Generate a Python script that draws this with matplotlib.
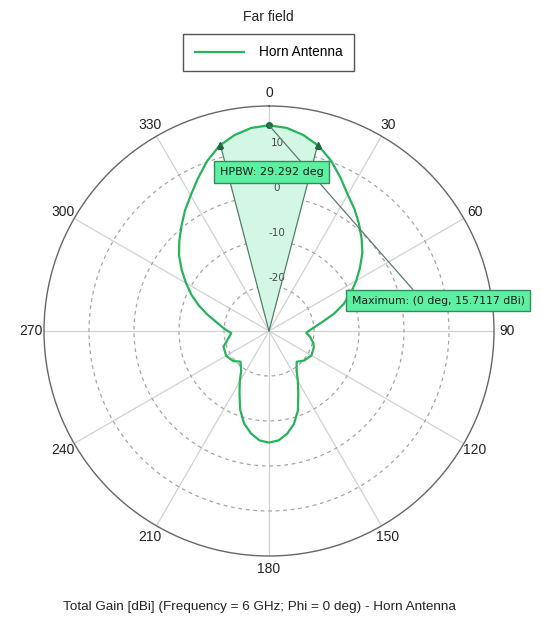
import numpy as np
import matplotlib
matplotlib.use("Agg")
import matplotlib.pyplot as plt

plt.rcParams["font.family"] = ["Liberation Sans", "DejaVu Sans"]

# Far-field cut, total gain (dBi) versus theta (deg, clockwise from boresight)
theta_deg = [0, 5, 10, 15, 20, 25, 30, 35, 40, 45, 50, 55, 60, 65, 70, 75, 80, 85,
             90, 93, 98, 105, 110, 120, 130, 138, 145, 150, 155, 160, 165, 170, 175,
             180, 185, 190, 195, 200, 205, 210, 215, 223, 230, 240, 251, 261, 267,
             270, 275, 280, 285, 290, 295, 300, 305, 310, 315, 320, 325, 330, 335,
             340, 345, 350, 355, 360]
gain_dbi = [15.7117, 15.3, 14.2, 12.6, 10.3, 7.6, 5.0, 3.1, 1.1, -0.9, -2.9, -5.3,
            -7.6, -9.9, -12.3, -15.0, -17.8, -19.8, -21.2, -21.7, -20.8, -19.8, -19.4,
            -19.1, -19.8, -20.8, -19.3, -17.2, -14.6, -11.2, -8.6, -6.8, -5.6,
            -5.2, -5.6, -6.9, -8.7, -11.3, -14.5, -17.0, -19.2, -20.7, -19.6, -19.0,
            -19.3, -21.0, -21.6, -20.8, -19.5, -18.0, -15.8, -13.4, -11.0, -8.7,
            -6.3, -3.9, -1.8, 0.3, 2.6, 4.8, 7.4, 10.2, 12.6, 14.2, 15.3, 15.7117]

angle_ticks = [0, 30, 60, 90, 120, 150, 180, 210, 240, 270, 300, 330]
ring_values = [-20, -10, 0, 10]
r_min, r_max = -30, 20

max_theta = 0
max_gain = 15.7117
hpbw_deg = 29.292

green = "#27b35b"
dark_green = "#1f6b3e"

fig = plt.figure(figsize=(5.42, 6.17), dpi=100)
ax = fig.add_axes([44 / 542, 61 / 617, 450 / 542, 450 / 617], projection="polar")
ax.set_theta_zero_location("N")
ax.set_theta_direction(-1)
ax.set_ylim(r_min, r_max)
ax.grid(False)
ax.set_xticks([])
ax.set_yticks([])
ax.spines["polar"].set_color("#666666")
ax.spines["polar"].set_linewidth(1.0)

# spokes and dashed level rings
for a in angle_ticks:
    t = np.deg2rad(a)
    ax.plot([t, t], [r_min, r_max], color="#d2d2d2", lw=0.9, zorder=1)
full = np.linspace(0, 2 * np.pi, 721)
for v in ring_values:
    ax.plot(full, np.full_like(full, v), color="#a6a6a6", lw=0.9,
            ls=(0, (3, 3)), zorder=1)

# angle labels
for a in angle_ticks:
    ax.text(np.deg2rad(a), 22.8, str(a), ha="center", va="center",
            fontsize=10, color="#222222")

# level labels
for v in ring_values:
    ax.annotate(str(v), xy=(0, v), xytext=(8, 8), textcoords="offset pixels",
                ha="center", va="center", fontsize=7.5, color="#4a4a4a",
                family="DejaVu Sans")

# half-power beamwidth wedge
half = hpbw_deg / 2
g_half = max_gain - 3.0
th = np.array(theta_deg, dtype=float)
g = np.array(gain_dbi, dtype=float)
th_wrapped = np.where(th > 180, th - 360, th)
inside = np.abs(th_wrapped) < half
order = np.argsort(th_wrapped[inside])
arc_t = th_wrapped[inside][order]
arc_g = g[inside][order]
wedge_t = np.deg2rad(np.concatenate([[-half], [-half], arc_t, [half], [half]]))
wedge_r = np.concatenate([[r_min], [g_half], arc_g, [g_half], [r_min]])
ax.fill(wedge_t, wedge_r, color="#d4f7e5", lw=0, zorder=2)
for s in (-1, 1):
    ax.plot([np.deg2rad(s * half)] * 2, [r_min, g_half], color="#4f7f66",
            lw=0.9, zorder=3)

# pattern
line, = ax.plot(np.deg2rad(theta_deg), gain_dbi, color=green, lw=1.6, zorder=4,
                label="Horn Antenna")

ax.plot(np.deg2rad([-half, half]), [g_half, g_half], ls="none", marker="^",
        ms=5, color=dark_green, zorder=5)
ax.plot([np.deg2rad(max_theta)], [max_gain], ls="none", marker="o", ms=4,
        color=dark_green, zorder=5)

box = dict(boxstyle="square,pad=0.5", fc="#5ef0a2", ec="#2f8f5a", lw=1.0)
fig.text(271.5 / 542, 1 - 172 / 617, f"HPBW: {hpbw_deg:.3f} deg",
         ha="center", va="center", fontsize=8, family="DejaVu Sans",
         color="#1a1a1a", bbox=box, zorder=10)

ax.annotate(f"Maximum: ({max_theta} deg, {max_gain:.4f} dBi)",
            xy=(np.deg2rad(max_theta), max_gain), xycoords="data",
            xytext=(438 / 542, 1 - 300.5 / 617), textcoords="figure fraction",
            ha="center", va="center", fontsize=7.8, family="DejaVu Sans",
            color="#1a1a1a", bbox=box, zorder=10, annotation_clip=False,
            arrowprops=dict(arrowstyle="-", color="#5c7a6a", lw=0.9,
                            relpos=(0.385, 1.0), shrinkA=0, shrinkB=0))

leg = fig.legend(handles=[line], loc="center",
                 bbox_to_anchor=(268.5 / 542, 1 - 52.5 / 617),
                 frameon=True, fancybox=False, edgecolor="#555555",
                 framealpha=1, fontsize=9.8, handlelength=3.6,
                 handletextpad=1.1, borderpad=0.85)
leg.get_frame().set_linewidth(1.0)

fig.text(268 / 542, 1 - 17 / 617, "Far field", ha="center", va="center",
         fontsize=10, color="#222222")
fig.text(259 / 542, 1 - 607 / 617,
         "Total Gain [dBi] (Frequency = 6 GHz; Phi = 0 deg) - Horn Antenna",
         ha="center", va="center", fontsize=9.7, color="#222222")

fig.savefig("out.png", dpi=100, facecolor="white")
